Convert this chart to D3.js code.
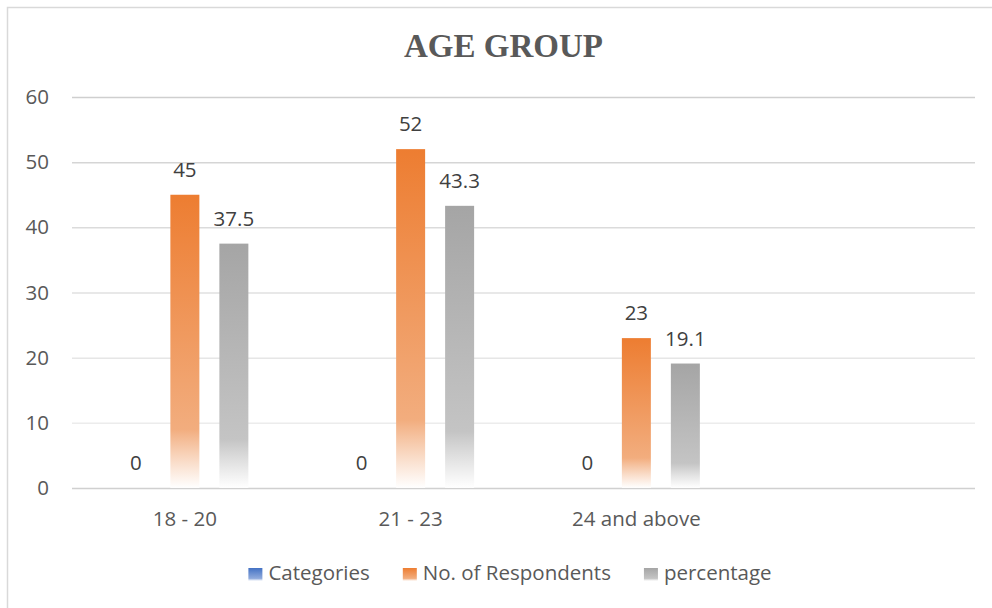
<!DOCTYPE html>
<meta charset="utf-8">
<script src="https://d3js.org/d3.v7.min.js"></script>
<style>
body {margin: 0; background: #fff;}
svg {display: block;}
text {font-family: "Open Sans", sans-serif;}
</style>
<div id="vis"></div>
<script>
// data
var categories = ["18 - 20", "21 - 23", "24 and above", ""];
var seriesNames = ["Categories", "No. of Respondents", "percentage"];
var categoriesVals = [0, 0, 0];
var respondents = [45, 52, 23];
var percentage = [37.5, 43.3, 19.1];
var yTicks = [0, 10, 20, 30, 40, 50, 60];

var seriesVals = [categoriesVals, respondents, percentage];
var colors = ["#4472C4", "#ED7D31", "#A5A5A5"];
var mids = ["#8FAADC", "#F2AD7E", "#C4C4C4"];

var width = 992, height = 608;
var plotLeft = 72, plotRight = 975, plotTop = 97, plotBottom = 488;
var fontSize = "20.5px";

var svg = d3.select("#vis").append("svg")
    .attr("width", width)
    .attr("height", height);

// gradients, one per series
var defs = svg.append("defs");
colors.forEach(function(c, i) {
  var g = defs.append("linearGradient")
      .attr("id", "grad" + i)
      .attr("x1", 0).attr("y1", 0).attr("x2", 0).attr("y2", 1);
  g.append("stop").attr("offset", "0%").attr("stop-color", c);
  g.append("stop").attr("offset", "80%").attr("stop-color", mids[i]);
  g.append("stop").attr("offset", "100%").attr("stop-color", "#ffffff").attr("stop-opacity", 0.9);
});

// chart border
svg.append("rect")
    .attr("x", 7.5).attr("y", 7.5)
    .attr("width", 1000).attr("height", 620)
    .attr("fill", "none")
    .attr("stroke", "#d9d9d9")
    .attr("stroke-width", 1.5);

var x0 = d3.scaleBand()
    .domain(categories)
    .range([plotLeft, plotRight])
    .paddingInner(0.349)
    .paddingOuter(0.1745);

var x1 = d3.scaleBand()
    .domain(d3.range(seriesNames.length))
    .range([0, x0.bandwidth()])
    .paddingInner(0.408)
    .paddingOuter(0.204);

var y = d3.scaleLinear()
    .domain([0, 60])
    .range([plotBottom, plotTop]);

var gridColor = d3.scaleLinear().domain([0, 10, 60]).range(["#d0d0d0", "#ececec", "#cfcfcf"]);

// gridlines
var yAxis = d3.axisLeft(y)
    .tickValues(yTicks)
    .tickSize(-(plotRight - plotLeft))
    .tickPadding(23);

var gy = svg.append("g")
    .attr("transform", "translate(" + plotLeft + ",0)")
    .call(yAxis);
gy.select(".domain").remove();
gy.selectAll(".tick line")
    .attr("stroke", function(d) { return gridColor(d); })
    .attr("stroke-width", 1.5);
gy.selectAll(".tick text")
    .attr("fill", "#595959")
    .style("font-size", fontSize)
    .style("font-family", "'Open Sans', sans-serif");

// category axis labels
var xAxis = d3.axisBottom(x0).tickSize(0).tickPadding(23);
var gx = svg.append("g")
    .attr("transform", "translate(0," + plotBottom + ")")
    .call(xAxis);
gx.select(".domain").remove();
gx.selectAll(".tick text")
    .attr("fill", "#595959")
    .style("font-size", fontSize)
    .style("font-family", "'Open Sans', sans-serif");

// bars
var groups = svg.selectAll(".grp")
    .data(categories.slice(0, 3))
    .enter().append("g")
    .attr("class", "grp")
    .attr("transform", function(d) { return "translate(" + x0(d) + ",0)"; });

groups.each(function(cat, ci) {
  var g = d3.select(this);
  seriesVals.forEach(function(vals, si) {
    var v = vals[ci];
    g.append("rect")
        .attr("x", x1(si))
        .attr("y", y(v))
        .attr("width", x1.bandwidth())
        .attr("height", plotBottom - y(v))
        .attr("fill", "url(#grad" + si + ")");
    g.append("text")
        .attr("x", x1(si) + x1.bandwidth() / 2)
        .attr("y", y(v) - 18)
        .attr("text-anchor", "middle")
        .attr("fill", "#404040")
        .style("font-size", fontSize)
        .text(v);
  });
});

// title
svg.append("text")
    .attr("x", 503.5)
    .attr("y", 57)
    .attr("text-anchor", "middle")
    .attr("fill", "#595959")
    .style("font-family", "'Liberation Serif', 'Times New Roman', serif")
    .style("font-weight", "bold")
    .style("font-size", "33px")
    .text("AGE GROUP");

// legend
var legend = svg.append("g");
var lx = 0;
seriesNames.forEach(function(name, i) {
  var item = legend.append("g").attr("transform", "translate(" + lx + ",0)");
  item.append("rect")
      .attr("x", 0).attr("y", 568)
      .attr("width", 14).attr("height", 13)
      .attr("fill", "url(#grad" + i + ")");
  var t = item.append("text")
      .attr("x", 20).attr("y", 580)
      .attr("fill", "#595959")
      .style("font-size", fontSize)
      .text(name);
  lx += 20 + t.node().getComputedTextLength() + 33;
});
var legW = lx - 33;
legend.attr("transform", "translate(" + (510 - legW / 2) + ",0)");
</script>
